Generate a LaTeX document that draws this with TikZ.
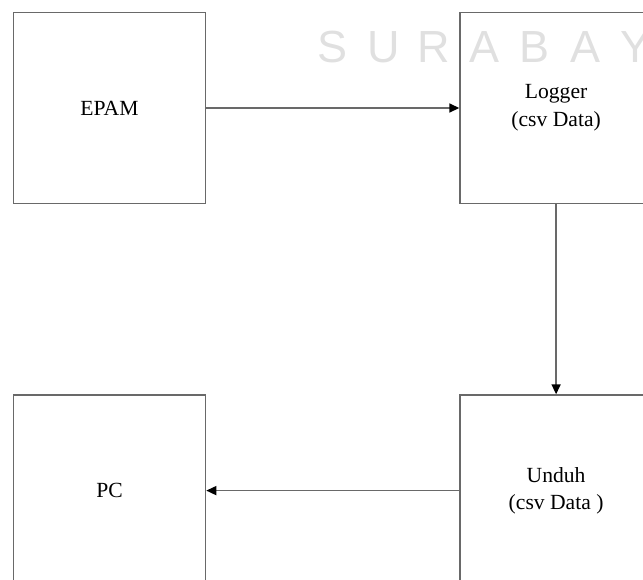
\documentclass[tikz,border=0pt]{standalone}
\usepackage{fontspec}
\setmainfont{Liberation Serif}
\newfontfamily\markfont{Liberation Sans}
\usetikzlibrary{positioning,arrows.meta}
\definecolor{boxgray}{RGB}{105,105,105}
\definecolor{markgray}{RGB}{224,224,224}

\begin{document}
\begin{tikzpicture}[
            x=0.5pt, y=-0.5pt,
            node distance=95pt and 126.5pt,
            block/.style={draw=boxgray, line width=0.8pt, minimum width=96pt, minimum height=95.5pt,
                          inner sep=0pt, align=center, font=\fontsize{10.8}{13.8}\selectfont},
            flow/.style={draw=boxgray, line width=0.8pt, -{Triangle[length=5pt,width=4.5pt,color=black]}}
        ]
            \useasboundingbox (0,0) rectangle (643,579);
            \clip (0,0) rectangle (643,579);

            % Watermark letters
            \foreach \ch [count=\i from 0] in {S,U,R,A,B,A,Y}
                \node[text=markgray, font=\markfont\fontsize{22.5}{22.5}\selectfont] (wm\i) at (333+50.5*\i,47) {\ch};

            % Blocks
            \node[block] (epam) at (109.5,108) {EPAM};
            \node[block, right=of epam] (logger) {Logger\\(csv Data)};
            \node[block, below=of logger] (unduh) {Unduh\\(csv Data )};
            \node[block, left=of unduh] (pc) {PC};

            % Flow
            \draw[flow] (epam) -- (logger);
            \draw[flow] (logger) -- (unduh);
            \draw[flow] (unduh) -- (pc);
        \end{tikzpicture}
\end{document}
